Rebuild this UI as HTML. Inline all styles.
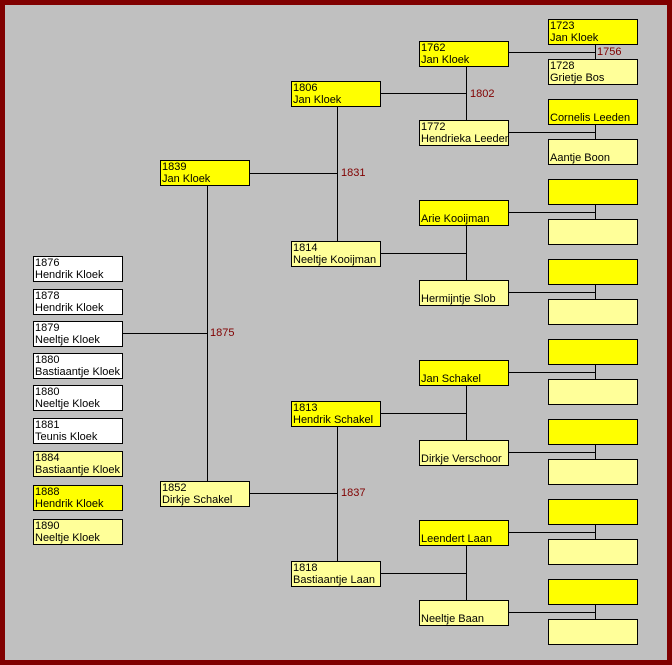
<!DOCTYPE html>
<html><head><meta charset="utf-8"><style>
html,body{margin:0;padding:0}
body{width:672px;height:665px;background:#800000;position:relative;overflow:hidden;font-family:"Liberation Sans",Arial,sans-serif}
#bg{position:absolute;left:5px;top:5px;width:662px;height:655px;background:#c0c0c0}
.b{position:absolute;width:87px;height:24px;border:1px solid #000;font-size:11px;line-height:12px;padding-left:1px;box-sizing:content-box;color:#000;white-space:nowrap;overflow:hidden}
.y{background:#ffff00}.l{background:#ffff99}.w{background:#fff}
.h{position:absolute;height:1px;background:#000}
.v{position:absolute;width:1px;background:#000}
.t{position:absolute;font-size:11px;color:#800000;line-height:12px}
</style></head><body><div id="bg"></div>
<div class="b w" style="left:33px;top:256px">1876<br>Hendrik Kloek</div>
<div class="b w" style="left:33px;top:289px">1878<br>Hendrik Kloek</div>
<div class="b w" style="left:33px;top:321px">1879<br>Neeltje Kloek</div>
<div class="b w" style="left:33px;top:353px">1880<br>Bastiaantje Kloek</div>
<div class="b w" style="left:33px;top:385px">1880<br>Neeltje Kloek</div>
<div class="b w" style="left:33px;top:418px">1881<br>Teunis Kloek</div>
<div class="b l" style="left:33px;top:451px">1884<br>Bastiaantje Kloek</div>
<div class="b y" style="left:33px;top:485px">1888<br>Hendrik Kloek</div>
<div class="b l" style="left:33px;top:519px">1890<br>Neeltje Kloek</div>
<div class="h" style="left:122px;top:333px;width:86px"></div>
<div class="v" style="left:207px;top:186px;height:295px"></div>
<div class="t" style="left:210px;top:327px">1875</div>
<div class="b y" style="left:160px;top:160px">1839<br>Jan Kloek</div>
<div class="b l" style="left:160px;top:481px">1852<br>Dirkje Schakel</div>
<div class="h" style="left:250px;top:173px;width:88px"></div>
<div class="v" style="left:337px;top:107px;height:134px"></div>
<div class="t" style="left:341px;top:167px">1831</div>
<div class="b y" style="left:291px;top:81px">1806<br>Jan Kloek</div>
<div class="b l" style="left:291px;top:241px">1814<br>Neeltje Kooijman</div>
<div class="h" style="left:250px;top:493px;width:88px"></div>
<div class="v" style="left:337px;top:427px;height:134px"></div>
<div class="t" style="left:341px;top:487px">1837</div>
<div class="b y" style="left:291px;top:401px">1813<br>Hendrik Schakel</div>
<div class="b l" style="left:291px;top:561px">1818<br>Bastiaantje Laan</div>
<div class="h" style="left:381px;top:93px;width:85px"></div>
<div class="v" style="left:466px;top:67px;height:53px"></div>
<div class="t" style="left:470px;top:88px">1802</div>
<div class="b y" style="left:419px;top:41px">1762<br>Jan Kloek</div>
<div class="b l" style="left:419px;top:120px">1772<br>Hendrieka Leeden</div>
<div class="h" style="left:381px;top:253px;width:85px"></div>
<div class="v" style="left:466px;top:226px;height:54px"></div>
<div class="b y" style="left:419px;top:200px"><br>Arie Kooijman</div>
<div class="b l" style="left:419px;top:280px"><br>Hermijntje Slob</div>
<div class="h" style="left:381px;top:413px;width:85px"></div>
<div class="v" style="left:466px;top:386px;height:54px"></div>
<div class="b y" style="left:419px;top:360px"><br>Jan Schakel</div>
<div class="b l" style="left:419px;top:440px"><br>Dirkje Verschoor</div>
<div class="h" style="left:381px;top:573px;width:85px"></div>
<div class="v" style="left:466px;top:546px;height:54px"></div>
<div class="b y" style="left:419px;top:520px"><br>Leendert Laan</div>
<div class="b l" style="left:419px;top:600px"><br>Neeltje Baan</div>
<div class="h" style="left:508px;top:52px;width:88px"></div><div class="v" style="left:595px;top:44px;height:16px"></div>
<div class="t" style="left:597px;top:46px">1756</div>
<div class="h" style="left:508px;top:132px;width:88px"></div><div class="v" style="left:595px;top:124px;height:16px"></div>
<div class="h" style="left:508px;top:212px;width:88px"></div><div class="v" style="left:595px;top:204px;height:16px"></div>
<div class="h" style="left:508px;top:292px;width:88px"></div><div class="v" style="left:595px;top:284px;height:16px"></div>
<div class="h" style="left:508px;top:372px;width:88px"></div><div class="v" style="left:595px;top:364px;height:16px"></div>
<div class="h" style="left:508px;top:452px;width:88px"></div><div class="v" style="left:595px;top:444px;height:16px"></div>
<div class="h" style="left:508px;top:532px;width:88px"></div><div class="v" style="left:595px;top:524px;height:16px"></div>
<div class="h" style="left:508px;top:612px;width:88px"></div><div class="v" style="left:595px;top:604px;height:16px"></div>
<div class="b y" style="left:548px;top:19px">1723<br>Jan Kloek</div>
<div class="b l" style="left:548px;top:59px">1728<br>Grietje Bos</div>
<div class="b y" style="left:548px;top:99px"><br>Cornelis Leeden</div>
<div class="b l" style="left:548px;top:139px"><br>Aantje Boon</div>
<div class="b y" style="left:548px;top:179px"></div>
<div class="b l" style="left:548px;top:219px"></div>
<div class="b y" style="left:548px;top:259px"></div>
<div class="b l" style="left:548px;top:299px"></div>
<div class="b y" style="left:548px;top:339px"></div>
<div class="b l" style="left:548px;top:379px"></div>
<div class="b y" style="left:548px;top:419px"></div>
<div class="b l" style="left:548px;top:459px"></div>
<div class="b y" style="left:548px;top:499px"></div>
<div class="b l" style="left:548px;top:539px"></div>
<div class="b y" style="left:548px;top:579px"></div>
<div class="b l" style="left:548px;top:619px"></div>
</body></html>
